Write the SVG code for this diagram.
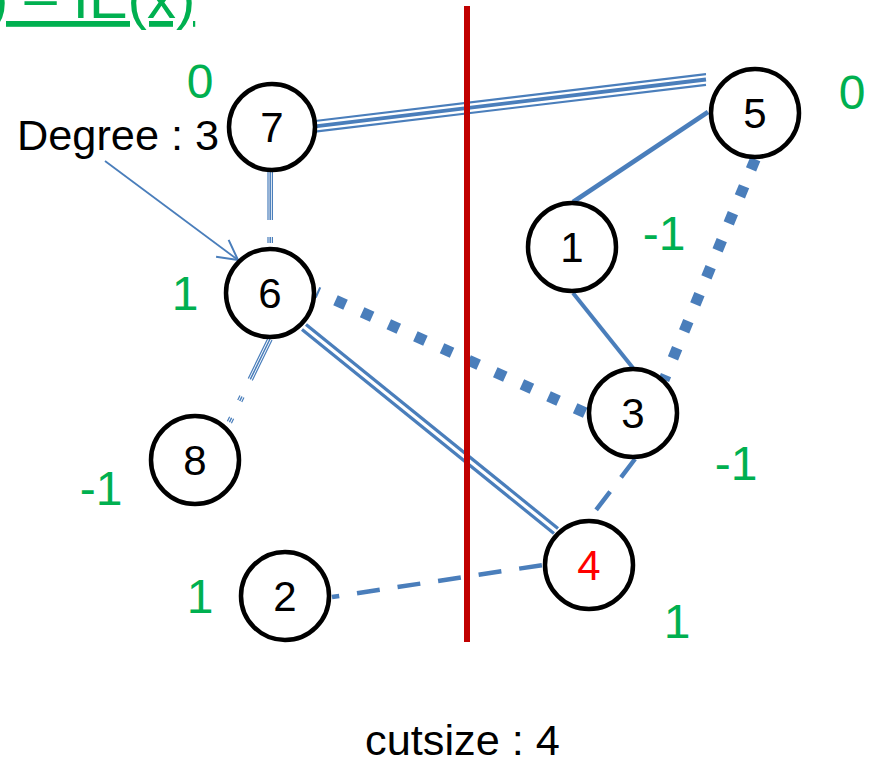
<svg xmlns="http://www.w3.org/2000/svg" width="878" height="763" viewBox="0 0 878 763">
<style>
.node circle{fill:#fff;stroke:#000;stroke-width:4.5}
.node text{font-family:"Liberation Sans",Arial,sans-serif;font-size:42px;text-anchor:middle;fill:#000}
.e{stroke:#4A7EBB;fill:none;stroke-linecap:butt}
.dash{stroke-width:4.5;stroke-dasharray:23 18}
.dot{stroke-width:11;stroke-dasharray:11 18.2}
.g{font-family:"Liberation Sans",Arial,sans-serif;font-size:48px;fill:#00B050;text-anchor:middle}
.k{font-family:"Liberation Sans",Arial,sans-serif;font-size:43.3px;fill:#000}
</style>
<defs>
<marker id="arr" markerUnits="userSpaceOnUse" markerWidth="30" markerHeight="30" refX="0" refY="0" viewBox="-25 -15 30 30" orient="auto" overflow="visible">
<path d="M-19.5,-10.5 L0,0 L-19.5,10.5" fill="none" stroke="#4A7EBB" stroke-width="2"/>
</marker>
</defs>
<text x="-11" y="18" font-family="'Liberation Sans',Arial,sans-serif" font-size="58" fill="#00B050" text-decoration="underline">) – IE(x)</text>
<g id="connectors">
<g id="e7-5">
<line class="e" x1="315" y1="121" x2="706" y2="74.2" stroke-width="2.2"/>
<line class="e" x1="315" y1="126.3" x2="706" y2="79.5" stroke-width="3.8"/>
<line class="e" x1="315" y1="131.6" x2="706" y2="84.8" stroke-width="2.2"/>
</g>
<g id="e7-6" stroke-dasharray="48 17 6 999">
<line class="e" x1="268" y1="172" x2="268" y2="248" stroke-width="1.2"/>
<line class="e" x1="270.2" y1="172" x2="270.2" y2="248" stroke-width="1.5"/>
<line class="e" x1="272.4" y1="172" x2="272.4" y2="248" stroke-width="1.2"/>
</g>
<g id="e6-8" stroke-dasharray="45 19 5 18.6 5 100">
<line class="e" x1="268" y1="338" x2="226.8" y2="422.5" stroke-width="1.2"/>
<line class="e" x1="270" y1="339" x2="228.8" y2="423.5" stroke-width="1.5"/>
<line class="e" x1="272" y1="340" x2="230.8" y2="424.5" stroke-width="1.2"/>
</g>
<g id="e6-4">
<line class="e" x1="306" y1="324.5" x2="558" y2="528.5" stroke-width="3.2"/>
<line class="e" x1="302" y1="329.5" x2="554" y2="533.5" stroke-width="3.2"/>
</g>
<line id="e6-3" class="e dot" x1="317" y1="292" x2="588" y2="414" stroke-dashoffset="8.9"/>
<line id="e5-3" class="e dot" x1="757" y1="155" x2="664" y2="380" stroke-dashoffset="24.6"/>
<line id="e5-1" class="e" x1="708" y1="112" x2="573" y2="202" stroke-width="4.6"/>
<line id="e1-3" class="e" x1="573" y1="293" x2="633" y2="368" stroke-width="4"/>
<line id="e3-4" class="e dash" x1="635" y1="459" x2="593" y2="514"/>
<line id="e2-4" class="e dash" x1="332" y1="597" x2="543" y2="565" stroke-dashoffset="15.7"/>
<line id="degree-arrow" class="e" x1="105" y1="161" x2="238" y2="260" stroke-width="1.8" marker-end="url(#arr)"/>
</g>
<g id="n7" class="node"><circle cx="272" cy="127" r="43"/><text x="272" y="142">7</text></g>
<g id="n5" class="node"><circle cx="755" cy="113" r="44"/><text x="755" y="128">5</text></g>
<g id="n1" class="node"><circle cx="572" cy="247" r="44"/><text x="572" y="262">1</text></g>
<g id="n6" class="node"><circle cx="270" cy="293" r="44"/><text x="270" y="308">6</text></g>
<g id="n3" class="node"><circle cx="633" cy="413" r="44"/><text x="633" y="428">3</text></g>
<g id="n4" class="node"><circle cx="589" cy="565" r="44"/><text x="589" y="580" style="fill:#FF0000">4</text></g>
<g id="n2" class="node"><circle cx="285" cy="596" r="44"/><text x="285" y="611">2</text></g>
<g id="n8" class="node"><circle cx="195" cy="460" r="44"/><text x="195" y="475">8</text></g>
<line id="cut" x1="467" y1="6" x2="467" y2="642" stroke="#C00000" stroke-width="6"/>
<text class="g" x="200" y="98">0</text>
<text class="g" x="852" y="109">0</text>
<text class="g" x="664" y="250">-1</text>
<text class="g" x="185" y="310">1</text>
<text class="g" x="101" y="505">-1</text>
<text class="g" x="736" y="480">-1</text>
<text class="g" x="200" y="613">1</text>
<text class="g" x="677" y="638">1</text>
<text class="k" x="17" y="150">Degree : 3</text>
<text class="k" x="365" y="755">cutsize : 4</text>
</svg>
